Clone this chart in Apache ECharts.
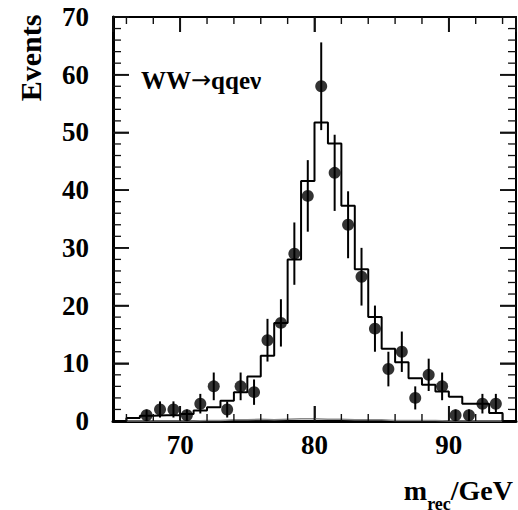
<!DOCTYPE html>
<html>
<head>
<meta charset="utf-8">
<script src="https://cdn.jsdelivr.net/npm/echarts@6/dist/echarts.min.js"></script>
<style>
  html, body { margin: 0; padding: 0; background: #fff; }
  #chart { width: 518px; height: 510px; }
</style>
</head>
<body>
<div id="chart"></div>
<script>
// Reconstructed mass, 1 GeV bins from 65 to 95 GeV
const binEdges = [65, 66, 67, 68, 69, 70, 71, 72, 73, 74, 75, 76, 77, 78, 79, 80,
                  81, 82, 83, 84, 85, 86, 87, 88, 89, 90, 91, 92, 93, 94, 95];

// Monte Carlo expectation per bin (signal + background)
const mcTotal = [0, 0.5, 0.9, 1.0, 1.0, 1.2, 1.8, 2.4, 3.5, 5.0, 7.7, 11.3, 17.0, 28.0, 41.6,
                 51.7, 48.1, 37.3, 26.3, 18.0, 12.5, 10.2, 7.4, 6.3, 5.1, 4.2, 3.0, 3.0, 1.4, 0];

// Background-only expectation per bin
const mcBackground = [0, 0, 0, 0, 0, 0, 0.1, 0.1, 0.2, 0.2, 0.3, 0.2, 0.3, 0.4, 0.4,
                      0.3, 0.3, 0.2, 0.2, 0.2, 0.1, 0.1, 0.1, 0.1, 0, 0, 0, 0, 0, 0];

// Selected data events (bin centres, counts, statistical errors)
const dataMass = [67.5, 68.5, 69.5, 70.5, 71.5, 72.5, 73.5, 74.5, 75.5, 76.5, 77.5, 78.5, 79.5,
                  80.5, 81.5, 82.5, 83.5, 84.5, 85.5, 86.5, 87.5, 88.5, 89.5, 90.5, 91.5, 92.5, 93.5];
const dataCounts = [1, 2, 2, 1, 3, 6, 2, 6, 5, 14, 17, 29, 39,
                    58, 43, 34, 25, 16, 9, 12, 4, 8, 6, 1, 1, 3, 3];
const dataErrors = [1.0, 1.4, 1.4, 1.0, 1.7, 2.4, 1.4, 2.4, 2.2, 3.7, 4.1, 5.4, 6.2,
                    7.6, 6.6, 5.8, 5.0, 4.0, 3.0, 3.5, 2.0, 2.8, 2.4, 1.0, 1.0, 1.7, 1.7];

// Axis ranges and tick positions (ticks point inwards on all four sides)
const xRange = [65, 95];
const yRange = [0, 70];
const xMajorTicks = [70, 80, 90];
const xMinorTicks = [66, 68, 72, 74, 76, 78, 82, 84, 86, 88, 92, 94];
const yMajorTicks = [10, 20, 30, 40, 50, 60];
const yMinorTicks = [2, 4, 6, 8, 12, 14, 16, 18, 22, 24, 26, 28, 32, 34, 36, 38,
                     42, 44, 46, 48, 52, 54, 56, 58, 62, 64, 66, 68];

const FONT = "'Liberation Serif', 'Times New Roman', serif";

// histogram outline: one point per left edge, closing point at the last edge
function stepPoints(values) {
  const pts = values.map((v, i) => [binEdges[i], v]);
  pts.push([binEdges[binEdges.length - 1], values[values.length - 1]]);
  return pts;
}

// inward tick marks on both opposite frame edges, placed through the axis scales
function tickSeries(values, dir, len, width) {
  return {
    type: 'custom', xAxisIndex: 0, yAxisIndex: 0, silent: true, clip: false, z: 6,
    data: values.map(v => (dir === 'x' ? [v, yRange[0]] : [xRange[0], v])),
    renderItem: function (params, api) {
      const style = { stroke: '#111', lineWidth: width };
      let a, b;
      if (dir === 'x') {
        const v = api.value(0);
        a = api.coord([v, yRange[0]]);
        b = api.coord([v, yRange[1]]);
        return { type: 'group', children: [
          { type: 'line', shape: { x1: a[0], y1: a[1], x2: a[0], y2: a[1] - len }, style: style },
          { type: 'line', shape: { x1: b[0], y1: b[1], x2: b[0], y2: b[1] + len }, style: style }
        ] };
      }
      const v = api.value(1);
      a = api.coord([xRange[0], v]);
      b = api.coord([xRange[1], v]);
      return { type: 'group', children: [
        { type: 'line', shape: { x1: a[0], y1: a[1], x2: a[0] + len, y2: a[1] }, style: style },
        { type: 'line', shape: { x1: b[0], y1: b[1], x2: b[0] - len, y2: b[1] }, style: style }
      ] };
    }
  };
}

const axisTickStyle = { color: '#111', width: 1.6 };

function xAxisCfg(pos, showLabel, lineWidth) {
  return {
    type: 'value', position: pos, min: xRange[0], max: xRange[1], splitNumber: 3,
    axisLine: { show: true, onZero: false, lineStyle: { color: '#000', width: lineWidth } },
    axisTick: { show: true, inside: true, length: 15, lineStyle: axisTickStyle },
    splitLine: { show: false },
    axisLabel: {
      show: showLabel, margin: 10, showMinLabel: false, showMaxLabel: false,
      formatter: v => (xMajorTicks.indexOf(v) >= 0 ? String(v) : ''),
      fontFamily: FONT, fontWeight: 'bold', fontSize: 27, color: '#000'
    }
  };
}

function yAxisCfg(pos, showLabel, lineWidth) {
  return {
    type: 'value', position: pos, min: yRange[0], max: yRange[1], interval: 10,
    axisLine: { show: true, onZero: false, lineStyle: { color: '#000', width: lineWidth } },
    axisTick: { show: true, inside: true, length: 16, lineStyle: axisTickStyle },
    splitLine: { show: false },
    axisLabel: {
      show: showLabel, margin: 24,
      fontFamily: FONT, fontWeight: 'bold', fontSize: 27, color: '#000'
    }
  };
}

// axis title pieces laid out from measured text widths
const measureCtx = document.createElement('canvas').getContext('2d');
function textWidth(str, size) {
  measureCtx.font = 'bold ' + size + 'px ' + FONT;
  return measureCtx.measureText(str).width;
}
const titleRight = 513;
const mainSize = 28, subSize = 18;
const wUnit = textWidth('/GeV', mainSize);
const wSub = textWidth('rec', subSize);

const chart = echarts.init(document.getElementById('chart'), null, { renderer: 'svg' });

chart.setOption({
  animation: false,
  backgroundColor: '#fff',
  grid: { left: 113, right: 2, top: 17, bottom: 89, containLabel: false, outerBoundsMode: 'none' },
  xAxis: [xAxisCfg('bottom', true, 3), xAxisCfg('top', false, 2)],
  yAxis: [yAxisCfg('left', true, 3), yAxisCfg('right', false, 2)],
  series: [
    tickSeries(xMajorTicks, 'x', 15, 1.8),
    tickSeries(xMinorTicks, 'x', 7, 1.4),
    tickSeries(yMajorTicks, 'y', 16, 1.6),
    tickSeries(yMinorTicks, 'y', 8, 1.3),
    {
      name: 'background',
      type: 'line', step: 'end', xAxisIndex: 0, yAxisIndex: 0,
      data: stepPoints(mcBackground),
      symbol: 'none',
      lineStyle: { color: '#8a8a8a', width: 1.5 },
      z: 2
    },
    {
      name: 'expectation',
      type: 'line', step: 'end', xAxisIndex: 0, yAxisIndex: 0,
      data: stepPoints(mcTotal),
      symbol: 'none',
      lineStyle: { color: '#000', width: 2 },
      z: 3
    },
    {
      name: 'errors',
      type: 'custom', xAxisIndex: 0, yAxisIndex: 0,
      data: dataMass.map((m, i) => [m, dataCounts[i], dataErrors[i]]),
      renderItem: function (params, api) {
        const x = api.value(0), y = api.value(1), e = api.value(2);
        const top = api.coord([x, y + e]);
        const bot = api.coord([x, Math.max(y - e, 0)]);
        return {
          type: 'line',
          shape: { x1: top[0], y1: top[1], x2: bot[0], y2: bot[1] },
          style: { stroke: '#000', lineWidth: 2 }
        };
      },
      z: 4
    },
    {
      name: 'data',
      type: 'scatter', xAxisIndex: 0, yAxisIndex: 0,
      data: dataMass.map((m, i) => [m, dataCounts[i]]),
      symbol: 'circle', symbolSize: 12,
      itemStyle: { color: '#000' },
      z: 5
    }
  ],
  graphic: [
    {
      type: 'text', x: 30, y: 58, rotation: Math.PI / 2,
      style: {
        text: 'Events', fontFamily: FONT, fontWeight: 'bold', fontSize: 30,
        fill: '#000', align: 'center', verticalAlign: 'middle'
      }
    },
    {
      type: 'text', x: 141, y: 80,
      style: {
        text: '{t|WW}{a|\u2192}{t|qqe\u03bd}',
        align: 'left', verticalAlign: 'middle', fill: '#000',
        rich: {
          t: { fontFamily: FONT, fontWeight: 'bold', fontSize: 25, fill: '#000' },
          a: { fontFamily: "'DejaVu Sans', sans-serif", fontWeight: 'normal', fontSize: 24, fill: '#000' }
        }
      }
    },
    {
      type: 'text', x: titleRight, y: 490,
      style: {
        text: '/GeV', fontFamily: FONT, fontWeight: 'bold', fontSize: mainSize,
        fill: '#000', align: 'right', verticalAlign: 'middle'
      }
    },
    {
      type: 'text', x: titleRight - wUnit, y: 504,
      style: {
        text: 'rec', fontFamily: FONT, fontWeight: 'bold', fontSize: subSize,
        fill: '#000', align: 'right', verticalAlign: 'middle'
      }
    },
    {
      type: 'text', x: titleRight - wUnit - wSub, y: 490,
      style: {
        text: 'm', fontFamily: FONT, fontWeight: 'bold', fontSize: mainSize,
        fill: '#000', align: 'right', verticalAlign: 'middle'
      }
    }
  ]
});
</script>
</body>
</html>
